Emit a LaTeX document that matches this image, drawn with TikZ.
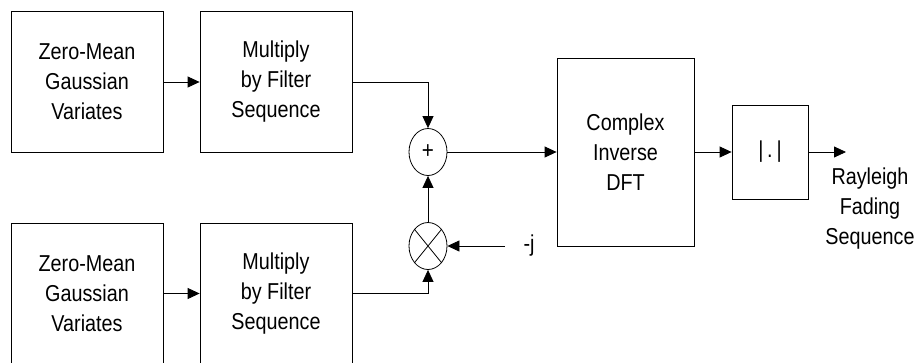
\documentclass[tikz,border=0pt]{standalone}
\usepackage{fontspec}
\setmainfont[FakeStretch=0.86]{Liberation Sans}
\usetikzlibrary{arrows.meta,shapes.geometric}
\begin{document}
\begin{tikzpicture}[x=1pt,y=-1pt,
  blk/.style={draw,line width=0.8pt,align=center,inner sep=0pt,font=\fontsize{23}{30}\selectfont},
  sumop/.style={draw,ellipse,line width=0.8pt,minimum width=38pt,minimum height=47pt,inner sep=0pt},
  conn/.style={line width=0.8pt,-{Triangle[length=12pt,width=11pt]}},
  lbl/.style={align=center,inner sep=0pt,font=\fontsize{23}{30}\selectfont}]
\useasboundingbox (0,0) rectangle (921,362);
\clip (0,0) rectangle (921,362);
\node[blk,minimum width=152pt,minimum height=141pt] (b1) at (87,82) {Zero-Mean\\Gaussian\\Variates};
\node[blk,minimum width=152pt,minimum height=141pt] (b2) at (276,82) {Multiply\\by Filter\\Sequence};
\node[blk,minimum width=152pt,minimum height=141pt] (b3) at (87,293.5) {Zero-Mean\\Gaussian\\Variates};
\node[blk,minimum width=152pt,minimum height=141pt] (b4) at (276,293.5) {Multiply\\by Filter\\Sequence};
\node[sumop,font=\fontsize{24}{24}\selectfont] (plus) at (428,152) {+};
\node[sumop] (times) at (428,246) {};
\draw[line width=0.8pt] (times.north west) -- (times.south east) (times.north east) -- (times.south west);
\node[blk,minimum width=137pt,minimum height=188pt] (dft) at (625.5,152) {Complex\\Inverse\\DFT};
\node[blk,minimum width=76pt,minimum height=94pt] (abs) at (770,152) {|\,.\,|};
\node[lbl] (mj) at (529,246) {-j};
\coordinate (jin) at (505,246);
\coordinate (out) at (846,152);
\node[lbl] (ray) at (870,209) {Rayleigh\\Fading\\Sequence};
\draw[conn] (b1.east) -- (b2.west);
\draw[conn] (b3.east) -- (b4.west);
\draw[conn] (b2.east) -| (plus.north);
\draw[conn] (b4.east) -| (times.south);
\draw[conn] (times.north) -- (plus.south);
\draw[conn] (jin) -- (times.east);
\draw[conn] (plus.east) -- (dft.west);
\draw[conn] (dft.east) -- (abs.west);
\draw[conn] (abs.east) -- (out);
\end{tikzpicture}
\end{document}
